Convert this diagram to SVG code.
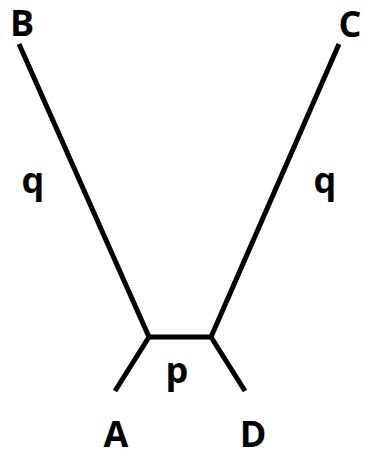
<svg xmlns="http://www.w3.org/2000/svg" width="366" height="453" viewBox="0 0 366 453">
<style>
.e{stroke:#000;stroke-width:5;fill:none;stroke-linecap:butt;stroke-linejoin:miter}
.t{font-family:"Open Sans","Noto Sans",sans-serif;font-weight:bold;font-size:36px;fill:#000;text-anchor:middle}
</style>
<rect width="366" height="453" fill="#fff"/>
<g id="edges">
<polyline class="e" points="19,44 149,337 211,337 339,44"/>
<line class="e" x1="149" y1="337" x2="115" y2="391"/>
<line class="e" x1="211" y1="337" x2="245" y2="391"/>
</g>
<g id="B"><text class="t" x="22" y="36">B</text></g>
<g id="C"><text class="t" x="350" y="37">C</text></g>
<g id="A"><text class="t" x="116" y="447">A</text></g>
<g id="D"><text class="t" x="253" y="447">D</text></g>
<g id="labels">
<text class="t" x="33" y="193">q</text>
<text class="t" x="325" y="193">q</text>
<text class="t" x="177" y="383">p</text>
</g>
</svg>
